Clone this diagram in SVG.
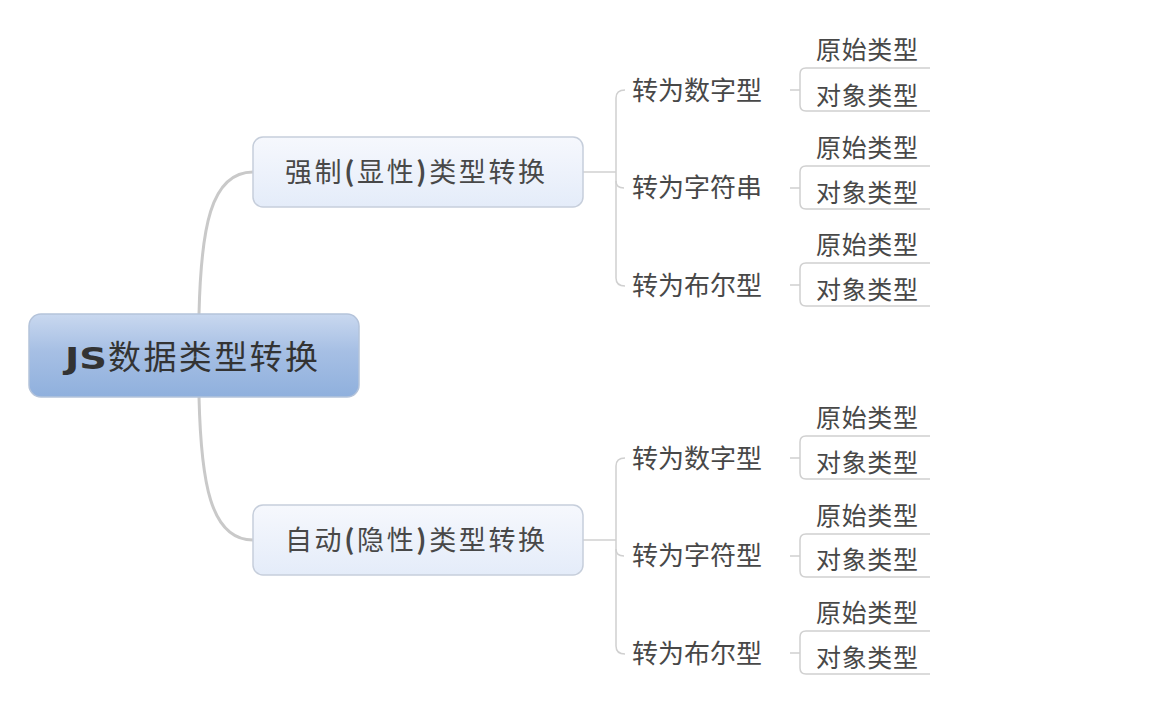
<svg xmlns="http://www.w3.org/2000/svg" width="1167" height="718" viewBox="0 0 1167 718">
<defs>
<linearGradient id="gRoot" x1="0" y1="0" x2="0" y2="1">
<stop offset="0" stop-color="#c9d8ef"/>
<stop offset="0.45" stop-color="#a6bfe4"/>
<stop offset="1" stop-color="#8fb0dd"/>
</linearGradient>
<linearGradient id="gMain" x1="0" y1="0" x2="0" y2="1">
<stop offset="0" stop-color="#f6f8fd"/>
<stop offset="1" stop-color="#e4ecf9"/>
</linearGradient>
</defs>
<style>
.cjk{font-family:"Noto Sans CJK SC","Noto Sans CJK JP",sans-serif;fill:#484848}
.root{fill:url(#gRoot);stroke:#b4c3da;stroke-width:1.5}
.main{fill:url(#gMain);stroke:#c6cedb;stroke-width:1.5}
.trunk{fill:none;stroke:#c9c9c9;stroke-width:3;stroke-linecap:round}
.line{fill:none;stroke:#d0d0d0;stroke-width:1.5}
.t2{font-size:27px}
.t3{font-size:26px}
.t4{font-size:25px}
</style>
<rect width="1167" height="718" fill="#ffffff"/>
<g id="connectors">
<path class="trunk" d="M199 314 C201 230 210 172 253 172"/>
<path class="trunk" d="M199 397 C201 481 210 540 253 540"/>
<path class="line" d="M583 172 L616 172"/>
<path class="line" d="M625 90 Q616 90 616 98 L616 278 Q616 286 625 286"/>
<path class="line" d="M616 181 Q616 188 624 188"/>
<path class="line" d="M583 540 L616 540"/>
<path class="line" d="M625 458 Q616 458 616 466 L616 646 Q616 654 625 654"/>
<path class="line" d="M616 549 Q616 556 624 556"/>
<path class="line" d="M790 90 L800 90 M930 68 L806 68 Q800 68 800 74 L800 105 Q800 111 806 111 L930 111"/>
<path class="line" d="M790 188 L800 188 M930 166 L806 166 Q800 166 800 172 L800 203 Q800 209 806 209 L930 209"/>
<path class="line" d="M790 285 L800 285 M930 263 L806 263 Q800 263 800 269 L800 300 Q800 306 806 306 L930 306"/>
<path class="line" d="M790 458 L800 458 M930 436 L806 436 Q800 436 800 442 L800 473 Q800 479 806 479 L930 479"/>
<path class="line" d="M790 556 L800 556 M930 534 L806 534 Q800 534 800 540 L800 571 Q800 577 806 577 L930 577"/>
<path class="line" d="M790 653 L800 653 M930 631 L806 631 Q800 631 800 637 L800 668 Q800 674 806 674 L930 674"/>
</g>
<g id="root">
<rect class="root" x="29" y="314" width="330" height="83" rx="12"/>
<text x="65" y="369" font-family="'DejaVu Sans',sans-serif" font-weight="bold" font-size="31" fill="#333" textLength="42" lengthAdjust="spacingAndGlyphs">JS</text>
<text class="cjk" x="108" y="369" font-size="33" style="fill:#333" textLength="210">数据类型转换</text>
</g>
<g id="main1">
<rect class="main" x="253" y="137" width="330" height="70" rx="10"/>
<text class="cjk t2" x="285" y="182" textLength="260">强制<tspan font-weight="bold">(</tspan>显性<tspan font-weight="bold">)</tspan>类型转换</text>
</g>
<g id="main2">
<rect class="main" x="253" y="505" width="330" height="70" rx="10"/>
<text class="cjk t2" x="285" y="550" textLength="260">自动<tspan font-weight="bold">(</tspan>隐性<tspan font-weight="bold">)</tspan>类型转换</text>
</g>
<g id="n-num1"><text class="cjk t3" x="632" y="100" textLength="130">转为数字型</text></g>
<g id="n-str1"><text class="cjk t3" x="632" y="197" textLength="130">转为字符串</text></g>
<g id="n-bool1"><text class="cjk t3" x="632" y="295" textLength="130">转为布尔型</text></g>
<g id="n-num2"><text class="cjk t3" x="632" y="468" textLength="130">转为数字型</text></g>
<g id="n-str2"><text class="cjk t3" x="632" y="565" textLength="130">转为字符型</text></g>
<g id="n-bool2"><text class="cjk t3" x="632" y="663" textLength="130">转为布尔型</text></g>
<g id="leaf-a1"><text class="cjk t4" x="816" y="59" textLength="102">原始类型</text></g>
<g id="leaf-b1"><text class="cjk t4" x="816" y="105" textLength="102">对象类型</text></g>
<g id="leaf-a2"><text class="cjk t4" x="816" y="157" textLength="102">原始类型</text></g>
<g id="leaf-b2"><text class="cjk t4" x="816" y="202" textLength="102">对象类型</text></g>
<g id="leaf-a3"><text class="cjk t4" x="816" y="254" textLength="102">原始类型</text></g>
<g id="leaf-b3"><text class="cjk t4" x="816" y="299" textLength="102">对象类型</text></g>
<g id="leaf-a4"><text class="cjk t4" x="816" y="427" textLength="102">原始类型</text></g>
<g id="leaf-b4"><text class="cjk t4" x="816" y="472" textLength="102">对象类型</text></g>
<g id="leaf-a5"><text class="cjk t4" x="816" y="525" textLength="102">原始类型</text></g>
<g id="leaf-b5"><text class="cjk t4" x="816" y="569" textLength="102">对象类型</text></g>
<g id="leaf-a6"><text class="cjk t4" x="816" y="622" textLength="102">原始类型</text></g>
<g id="leaf-b6"><text class="cjk t4" x="816" y="667" textLength="102">对象类型</text></g>
</svg>
